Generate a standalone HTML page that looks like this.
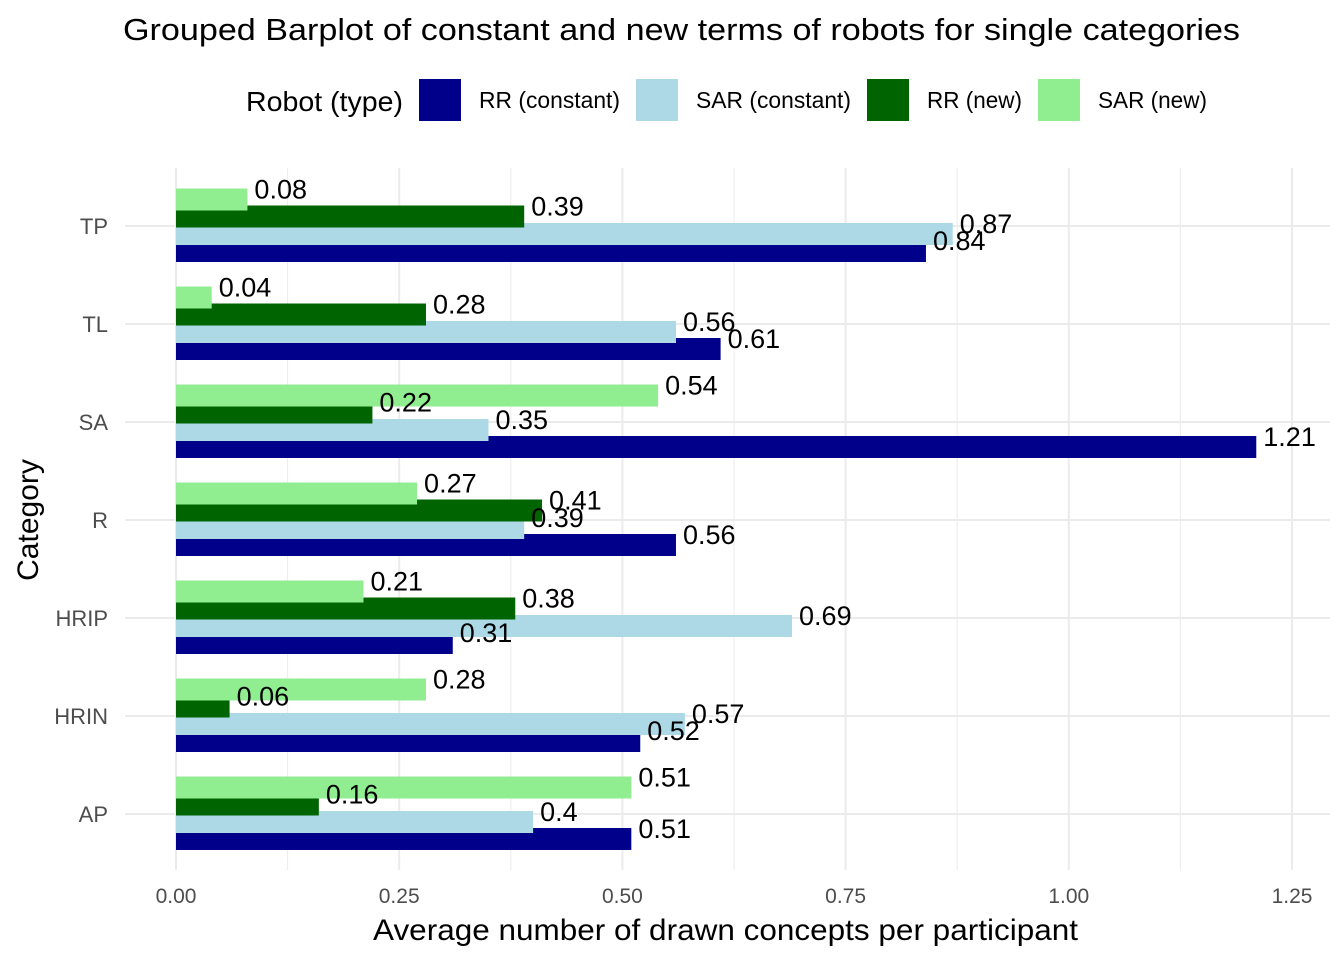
<!DOCTYPE html>
<html><head><meta charset="utf-8">
<style>
body{margin:0;background:#fff;}
svg text{font-family:"Liberation Sans",Arial,sans-serif;}
</style></head>
<body>
<svg id="chart" width="1344" height="960" xmlns="http://www.w3.org/2000/svg">
<rect width="1344" height="960" fill="#fff"/>
<text x="123" y="40" font-size="31" textLength="1117" lengthAdjust="spacingAndGlyphs" fill="#000">Grouped Barplot of constant and new terms of robots for single categories</text>
<g id="legend">
<text x="246" y="111" font-size="28" textLength="157" lengthAdjust="spacingAndGlyphs" fill="#000">Robot (type)</text>
</g>
<g id="grid"></g>
<g id="bars"></g>
<g id="labels"></g>
<g id="axes"></g>
<text x="373" y="940" font-size="30" textLength="705" lengthAdjust="spacingAndGlyphs" fill="#000">Average number of drawn concepts per participant</text>
<text x="0" y="0" transform="translate(38,520) rotate(-90)" font-size="30" text-anchor="middle" fill="#000">Category</text>
</svg>
<script>
const categories = ["TP","TL","SA","R","HRIP","HRIN","AP"];
const seriesNames = ["RR (constant)","SAR (constant)","RR (new)","SAR (new)"];
const rrConstant = [0.84,0.61,1.21,0.56,0.31,0.52,0.51];
const sarConstant = [0.87,0.56,0.35,0.39,0.69,0.57,0.4];
const rrNew = [0.39,0.28,0.22,0.41,0.38,0.06,0.16];
const sarNew = [0.08,0.04,0.54,0.27,0.21,0.28,0.51];
const xTicks = [0,0.25,0.5,0.75,1.0,1.25];
const xTickLabels = ["0.00","0.25","0.50","0.75","1.00","1.25"];

const colors = ["#00008b","#add8e6","#006400","#90ee90"];
const legendWidths = [141,155,95,109];
const NS = "http://www.w3.org/2000/svg";
const x = v => 176 + v * 892.8;
const y = i => 226 + i * 98;
const offsets = [25, 8, -9.5, -26.5];
function mk(tag, attrs, parent){const e=document.createElementNS(NS,tag);for(const k in attrs)e.setAttribute(k,attrs[k]);parent.appendChild(e);return e;}

const grid = document.getElementById('grid');
for (let v = 0.125; v < 1.3; v += 0.25) {
  const l = mk('line',{x1:x(v),x2:x(v),y1:168,y2:870,stroke:'#ebebeb','stroke-width':1},grid);
  
  
}
xTicks.forEach(v => {
  const l = mk('line',{x1:x(v),x2:x(v),y1:168,y2:870,stroke:'#ebebeb','stroke-width':2},grid);
  
  
});
categories.forEach((c,i) => {
  const l = mk('line',{x1:125,x2:1330,y1:y(i),y2:y(i),stroke:'#ebebeb','stroke-width':2},grid);
  
  
});

const series = [rrConstant, sarConstant, rrNew, sarNew];
const bars = document.getElementById('bars');
const labels = document.getElementById('labels');
series.forEach((vals, s) => {
  vals.forEach((v, i) => {
    const cy = y(i) + offsets[s];
    const r = mk('rect',{x:x(0),y:cy-11,width:x(v)-x(0),height:22,fill:colors[s]},bars);
    
    
  });
});
series.forEach((vals, s) => {
  vals.forEach((v, i) => {
    const cy = y(i) + offsets[s];
    const t = mk('text',{x:x(v)+7,y:cy-1,'font-size':27,fill:'#000'},labels);
    t.textContent = String(v);
    
    
  });
});

const axes = document.getElementById('axes');
xTicks.forEach((v,k) => {
  const t = mk('text',{x:x(v),y:903,'font-size':21,'text-anchor':'middle',fill:'#4d4d4d'},axes);
  t.textContent = xTickLabels[k];
  
  
});
categories.forEach((c,i) => {
  const t = mk('text',{x:108,y:y(i)+8,'font-size':22,'text-anchor':'end',fill:'#4d4d4d'},axes);
  t.textContent = c;
  
  
});

const legend = document.getElementById('legend');
const lx = [419,636,867,1038];
seriesNames.forEach((n,s) => {
  const r = mk('rect',{x:lx[s],y:79,width:42,height:42,fill:colors[s]},legend);
  
  
  const t = mk('text',{x:lx[s]+60,y:108,'font-size':23,textLength:legendWidths[s],lengthAdjust:'spacingAndGlyphs',fill:'#000'},legend);
  t.textContent = n;
  
  
});
</script>
</body></html>
